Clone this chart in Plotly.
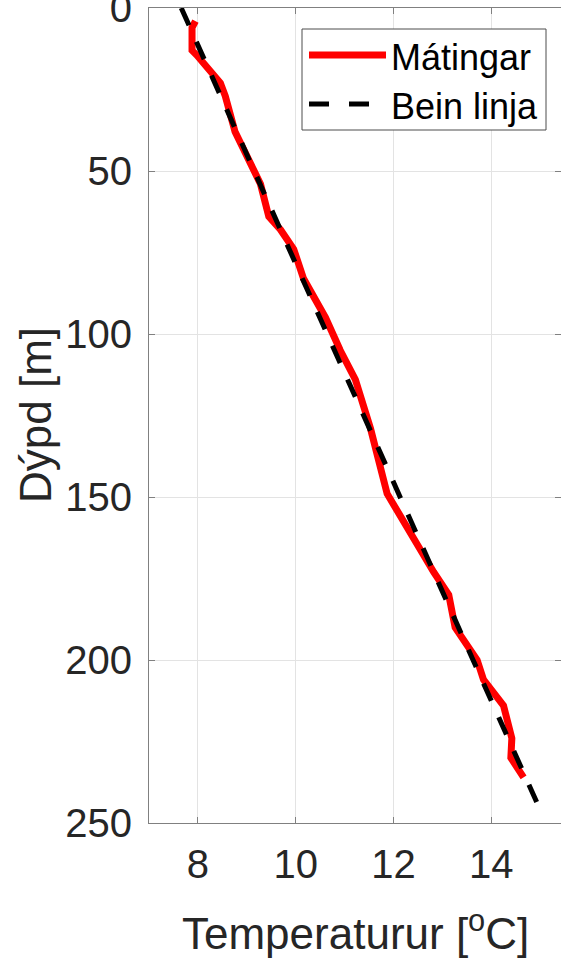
import plotly.graph_objects as go

# Measured profile (Mátingar)
depth_meas = [4, 6, 13, 14.5, 23, 27, 38, 44, 49, 54, 64, 68, 74, 83, 95, 105, 114, 129, 149,
              163, 173, 180, 190, 200, 206, 214, 224, 230, 236]
temp_meas = [7.95, 7.88, 7.88, 7.98, 8.46, 8.56, 8.76, 8.97, 9.11, 9.28, 9.45, 9.69, 9.96, 10.16,
             10.61, 10.91, 11.22, 11.53, 11.87, 12.41, 12.82, 13.13, 13.26, 13.71, 13.84, 14.25,
             14.42, 14.40, 14.66]

# Straight line (Bein linja)
depth_fit = [0, 245]
temp_fit = [7.66, 14.97]

x_ticks = [8, 10, 12, 14]
y_ticks = [0, 50, 100, 150, 200, 250]

W, H = 561, 959
ML, MR, MT, MB = 149, 0, 8, 136
PW, PH = W - ML - MR, H - MT - MB

def px(x):
    return (x - ML) / PW

def py(y):
    return 1 - (y - MT) / PH

FONT = "Liberation Sans, Arial, Helvetica, sans-serif"
TXT = "#262626"
AX = "#808080"
GRID = "#e3e3e3"

fig = go.Figure()
fig.add_trace(go.Scatter(x=temp_meas, y=depth_meas, mode="lines",
                         line=dict(color="#ff0000", width=7), name="Mátingar",
                         showlegend=False))
fig.add_trace(go.Scatter(x=temp_fit, y=depth_fit, mode="lines",
                         line=dict(color="#000000", width=5, dash="19px,18px"),
                         name="Bein linja", showlegend=False))

axis_common = dict(showline=True, linecolor=AX, linewidth=1, mirror="ticks",
                   ticks="inside", ticklen=6, tickcolor=AX, tickwidth=1,
                   showgrid=True, gridcolor=GRID, gridwidth=1, zeroline=False,
                   ticklabeloverflow="allow", automargin=False,
                   tickfont=dict(family=FONT, size=40, color=TXT))

fig.update_xaxes(range=[7, 7 + PW / 48.9], tickvals=x_ticks,
                 ticktext=[str(v) for v in x_ticks], ticklabelstandoff=6,
                 **axis_common)
fig.update_yaxes(range=[250, 0], tickvals=y_ticks,
                 ticktext=[str(v) for v in y_ticks], ticklabelstandoff=8,
                 **axis_common)

# Legend box
fig.add_shape(type="rect", xref="paper", yref="paper",
              x0=px(302), x1=px(546), y0=py(130), y1=py(29),
              line=dict(color="#4d4d4d", width=1), fillcolor="white", layer="above")
fig.add_shape(type="line", xref="paper", yref="paper",
              x0=px(309), x1=px(386), y0=py(55), y1=py(55),
              line=dict(color="#ff0000", width=7), layer="above")
fig.add_shape(type="line", xref="paper", yref="paper",
              x0=px(309), x1=px(386), y0=py(104), y1=py(104),
              line=dict(color="#000000", width=5, dash="20px,20px"), layer="above")

annotations = [
    dict(text="Mátingar", x=px(389), y=py(58), xanchor="left", yanchor="middle"),
    dict(text="Bein linja", x=px(389), y=py(107), xanchor="left", yanchor="middle"),
]
for a in annotations:
    fig.add_annotation(xref="paper", yref="paper", showarrow=False,
                       font=dict(family=FONT, size=36, color="#000000"), **a)

# Axis titles
fig.add_annotation(text="Temperaturur [<sup>o</sup>C]", xref="paper", yref="paper",
                   x=px(355), y=py(931), xanchor="center", yanchor="middle",
                   showarrow=False, font=dict(family=FONT, size=44, color=TXT))
fig.add_annotation(text="Dýpd [m]", xref="paper", yref="paper",
                   x=px(35), y=py(415), xanchor="center", yanchor="middle",
                   textangle=-90, showarrow=False,
                   font=dict(family=FONT, size=44, color=TXT))

fig.update_layout(width=W, height=H, margin=dict(l=ML, r=MR, t=MT, b=MB, autoexpand=False),
                  plot_bgcolor="white", paper_bgcolor="white", showlegend=False)

fig.write_html("out.html")
